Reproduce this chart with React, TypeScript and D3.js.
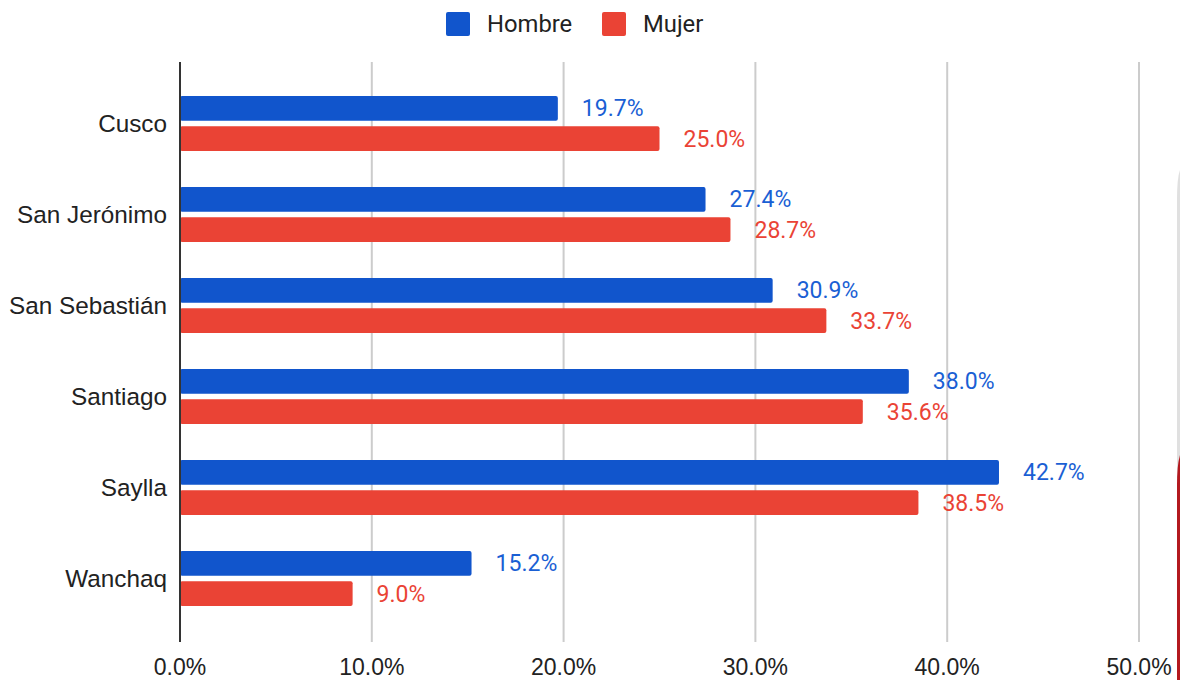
import React from "react";
import * as d3 from "d3";

const categories = ["Cusco", "San Jerónimo", "San Sebastián", "Santiago", "Saylla", "Wanchaq"];
const hombre = [19.7, 27.4, 30.9, 38.0, 42.7, 15.2];
const mujer = [25.0, 28.7, 33.7, 35.6, 38.5, 9.0];
const seriesNames = ["Hombre", "Mujer"];
const seriesColors = ["#1155cc", "#ea4335"];
const labelColors = ["#1a5fd4", "#ea4335"];
const xTicks = [0, 10, 20, 30, 40, 50];

export default function App() {
  const width = 1180;
  const height = 680;
  const plotTop = 62;
  const plotBottom = 642;

  const x = d3.scaleLinear().domain([0, 50]).range([180, 1139]);
  const y = d3.scaleBand().domain(categories).range([78.5, 624.5]);
  const inner = d3.scaleBand().domain(seriesNames).range([-28, 27]).paddingInner(0.18);

  const roboto = "Roboto, 'Noto Sans', sans-serif";
  const arial = "'Liberation Sans', Arial, sans-serif";
  const series = [hombre, mujer];

  return (
    <svg
      width={width}
      height={height}
      style={{ position: "absolute", left: 0, top: 0, background: "#fff" }}
      fontFamily={roboto}
    >
      {/* grid */}
      {xTicks.slice(1).map((t) => (
        <line key={t} x1={x(t)} x2={x(t)} y1={plotTop} y2={plotBottom} stroke="#cccccc" strokeWidth={2} />
      ))}
      {/* tick labels */}
      {xTicks.map((t) => (
        <text key={t} x={x(t)} y={675} textAnchor="middle" fontSize={23} fill="#222" fontFamily={arial}>
          {t.toFixed(1)}%
        </text>
      ))}
      {/* bars */}
      {categories.map((c, i) => {
        const cy = (y(c) as number) + y.bandwidth() / 2;
        return (
          <g key={c}>
            <text x={167} y={cy + 8} textAnchor="end" fontSize={24.3} fill="#222" fontFamily={arial}>
              {c}
            </text>
            {series.map((s, j) => {
              const by = cy + (inner(seriesNames[j]) as number);
              const bh = inner.bandwidth();
              return (
                <g key={j}>
                  <rect x={x(0)} y={by} width={x(s[i]) - x(0)} height={bh} rx={2} fill={seriesColors[j]} />
                  <text x={x(s[i]) + 24} y={by + bh / 2 + 8} fontSize={23} fill={labelColors[j]}>
                    {s[i].toFixed(1)}%
                  </text>
                </g>
              );
            })}
          </g>
        );
      })}
      {/* zero axis */}
      <line x1={x(0)} x2={x(0)} y1={plotTop} y2={plotBottom} stroke="#333" strokeWidth={2} />
      {/* legend */}
      {seriesNames.map((n, j) => {
        const lx = j === 0 ? 446 : 602;
        return (
          <g key={n}>
            <rect x={lx} y={12} width={24} height={24} rx={2} fill={seriesColors[j]} />
            <text x={lx + 41} y={32} fontSize={23.8} fill="#222">
              {n}
            </text>
          </g>
        );
      })}
      {/* right edge decoration */}
      <path d="M1180,170 Q1177,178 1177,200 L1177,480 L1180,480 Z" fill="#e0e0e0" />
      <path d="M1180,455 Q1177,465 1177,485 L1177,680 L1180,680 Z" fill="#b3191f" />
    </svg>
  );
}
